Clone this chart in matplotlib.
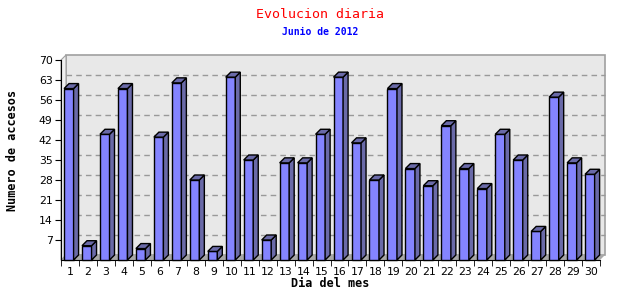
import numpy as np
import matplotlib
matplotlib.use("Agg")
import matplotlib.pyplot as plt
from matplotlib.patches import Polygon, Rectangle

# ----------------------------
# Data
# ----------------------------
dias = [str(d) for d in range(1, 31)]
accesos = [60, 5, 44, 60, 4, 43, 62, 28, 3, 64,
           35, 7, 34, 34, 44, 64, 41, 28, 60, 32,
           26, 47, 32, 25, 44, 35, 10, 57, 34, 30]
y_ticks = [7, 14, 21, 28, 35, 42, 49, 56, 63, 70]

# ----------------------------
# Figure / axes geometry
# ----------------------------
W, H = 640, 300
fig = plt.figure(figsize=(W / 100, H / 100), dpi=100)
ax_l, ax_r, ax_t, ax_b = 61, 600, 60, 260   # pixel box of the front plane
ax = fig.add_axes([ax_l / W, 1 - ax_b / H, (ax_r - ax_l) / W, (ax_b - ax_t) / H])

n = len(dias)
ymax = 70
ax.set_xlim(-0.5, n - 0.5)
ax.set_ylim(0, ymax)

# 3D depth in pixels -> data units
depth_px = 5
dx = depth_px / ((ax_r - ax_l) / n)
dy = depth_px / ((ax_b - ax_t) / ymax)

front = "#8484ff"
side = "#6a6aa8"

# back wall
ax.add_patch(Rectangle((-0.5 + dx, dy), n, ymax, facecolor="#e8e8e8",
                       edgecolor="#a0a0a0", lw=1.2, clip_on=False, zorder=0))
# left wall
ax.add_patch(Polygon([(-0.5, 0), (-0.5 + dx, dy), (-0.5 + dx, ymax + dy), (-0.5, ymax)],
                     closed=True, facecolor="#f0f0f0", edgecolor="#a0a0a0", lw=0.8,
                     clip_on=False, zorder=0))
# floor
ax.add_patch(Polygon([(-0.5, 0), (n - 0.5, 0), (n - 0.5 + dx, dy), (-0.5 + dx, dy)],
                     closed=True, facecolor="#a8a8a8", edgecolor="none",
                     clip_on=False, zorder=0.5))

# dashed gridlines on the back wall
for t in y_ticks[:-1]:
    ax.plot([-0.5 + dx, n - 0.5 + dx], [t + dy, t + dy], ls=(0, (4, 3)),
            color="#999999", lw=1, clip_on=False, zorder=0.8)

# bars
x = np.arange(n)
bw = 0.53
x0 = x - 0.33
ax.bar(x0, accesos, width=bw, align="edge", color=front, edgecolor="black",
       lw=1, zorder=3, clip_on=False)
for xi, v in zip(x0, accesos):
    r = xi + bw
    ax.add_patch(Polygon([(r, 0), (r + dx, dy), (r + dx, v + dy), (r, v)], closed=True,
                         facecolor=side, edgecolor="black", lw=1, zorder=3,
                         clip_on=False))
    ax.add_patch(Polygon([(xi, v), (r, v), (r + dx, v + dy), (xi + dx, v + dy)],
                         closed=True, facecolor=side, edgecolor="black", lw=1,
                         zorder=3, clip_on=False))

# axes styling
for s in ["top", "right"]:
    ax.spines[s].set_visible(False)
ax.spines["left"].set_color("black")
ax.spines["bottom"].set_color("black")
ax.patch.set_visible(False)

ax.set_yticks(y_ticks)
ax.set_yticklabels([str(t) for t in y_ticks], fontsize=7.8, family="DejaVu Sans")
ax.set_xticks(x)
ax.set_xticklabels(dias, fontsize=7.8, family="DejaVu Sans")
ax.set_xticks(np.arange(n + 1) - 0.5, minor=True)
ax.tick_params(axis="x", which="major", length=0, pad=5)
ax.tick_params(axis="x", which="minor", length=4, direction="out")
ax.tick_params(axis="y", length=4, direction="out", pad=2)

ax.set_xlabel("Dia del mes", fontsize=8.5, family="DejaVu Sans Mono",
              fontweight="bold", labelpad=0)
fig.text(13 / W, 1 - 150 / H, "Numero de accesos", rotation=90, ha="center",
         va="center", fontsize=8.5, family="DejaVu Sans Mono", fontweight="bold")

fig.text(0.5, 1 - 14 / H, "Evolucion diaria", color="red", ha="center", va="center",
         fontsize=9.5, family="DejaVu Sans Mono")
fig.text(0.5, 1 - 32 / H, "Junio de 2012", color="blue", ha="center", va="center",
         fontsize=7, family="DejaVu Sans Mono", fontweight="bold")

fig.savefig("out.png", dpi=100)
